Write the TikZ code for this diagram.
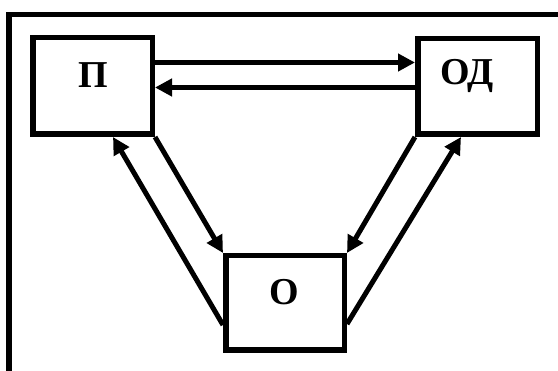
\documentclass[tikz,border=0pt]{standalone}
\usepackage{fontspec}
\setmainfont{Liberation Serif}
\usetikzlibrary{arrows.meta}
\begin{document}
\begin{tikzpicture}[x=1pt,y=-1pt,
  blk/.style={draw,line width=5.5pt,minimum width=119.5pt,minimum height=96.5pt,inner sep=0pt},
  lbl/.style={font=\fontsize{38}{40}\selectfont\bfseries,inner sep=0pt},
  conn/.style={line width=5pt,-{Triangle[length=17pt,width=17pt]}},
  frame/.style={line width=5.5pt}]
\useasboundingbox[fill=white] (0,0) rectangle (558,371);
\coordinate (fa) at (9,371);
\coordinate (fb) at (9,14.5);
\coordinate (fc) at (558,14.5);
\draw[frame] (fa) -- (fb) -- (fc);
\node[blk] (P) at (92.5,86) {};
\node[blk,minimum height=95.5pt] (OD) at (477.5,86.5) {};
\node[blk,minimum width=118.5pt,minimum height=94.5pt] (O) at (285,303) {};
\node[lbl] (Pt) at (93,75) {П};
\node[lbl] (ODt) at (467,76) {ОД};
\node[lbl] (Ot) at (284,292) {О};
\draw[conn] ([yshift=23.5pt]P.east) -- ([yshift=24pt]OD.west);
\draw[conn] ([yshift=-1pt]OD.west) -- ([yshift=-1.5pt]P.east);
\draw[conn] (P.south east) -- (O.north west);
\draw[conn] ([yshift=-22pt]O.west) -- ([xshift=20.5pt]P.south);
\draw[conn] (OD.south west) -- (O.north east);
\draw[conn] ([yshift=-21pt]O.east) -- ([xshift=-16.5pt]OD.south);
\end{tikzpicture}
\end{document}
